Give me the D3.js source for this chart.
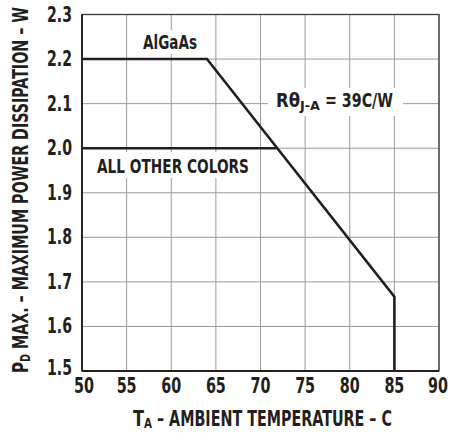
<!DOCTYPE html>
<html>
<head>
<meta charset="utf-8">
<script src="https://cdn.jsdelivr.net/npm/d3@7"></script>
<style>
  body { margin: 0; background: #fff; }
  svg text { font-family: "Liberation Sans Narrow", "DejaVu Sans Condensed", "Liberation Sans", sans-serif; font-weight: bold; fill: #231f20; }
  .grid line { stroke: #9a9a9a; stroke-width: 1; }
  .curve { fill: none; stroke: #231f20; stroke-width: 2.6; }
</style>
</head>
<body>
<svg id="chart" width="453" height="433"></svg>
<script>
// --- Chart data ---
const xTicks = [50, 55, 60, 65, 70, 75, 80, 85, 90];
const yTicks = [1.5, 1.6, 1.7, 1.8, 1.9, 2.0, 2.1, 2.2, 2.3];
const algaasTemp = [50, 64, 85, 85];
const algaasPower = [2.2, 2.2, 1.667, 1.5];
const otherTemp = [50, 71.9];
const otherPower = [2.0, 2.0];

const margin = { left: 82, right: 14, top: 14.5, bottom: 62 };
const width = 453, height = 433;

const svg = d3.select("#chart");

const x = d3.scaleLinear().domain([50, 90]).range([margin.left, width - margin.right]);
const y = d3.scaleLinear().domain([1.5, 2.3]).range([height - margin.bottom, margin.top]);

// grid
const grid = svg.append("g").attr("class", "grid");
grid.selectAll(".vx")
    .data(xTicks)
    .enter().append("line")
    .attr("x1", d => x(d)).attr("x2", d => x(d))
    .attr("y1", y(1.5)).attr("y2", y(2.3));
grid.selectAll(".hy")
    .data(yTicks)
    .enter().append("line")
    .attr("x1", x(50)).attr("x2", x(90))
    .attr("y1", d => y(d)).attr("y2", d => y(d));

// white boxes behind labels (they break the grid)
function labelBox(x0, y0, w, h) {
    svg.append("rect")
        .attr("x", x0).attr("y", y0)
        .attr("width", w).attr("height", h)
        .attr("fill", "#fff");
}
labelBox(138, 30, 64, 24);
labelBox(92, 152, 162, 26);
labelBox(268, 88, 135, 28);

// frame
svg.append("rect")
    .attr("x", x(50)).attr("y", y(2.3))
    .attr("width", x(90) - x(50)).attr("height", y(1.5) - y(2.3))
    .attr("fill", "none").attr("stroke", "#3a3a3a").attr("stroke-width", 1.3);
svg.append("line")
    .attr("x1", x(50)).attr("x2", x(50)).attr("y1", y(2.3)).attr("y2", y(1.5))
    .attr("stroke", "#231f20").attr("stroke-width", 1.8);
svg.append("line")
    .attr("x1", x(50)).attr("x2", x(90)).attr("y1", y(1.5)).attr("y2", y(1.5))
    .attr("stroke", "#231f20").attr("stroke-width", 1.8);

// curves
const line = d3.line().x(d => x(d[0])).y(d => y(d[1]));
svg.append("path").attr("class", "curve")
    .attr("d", line(d3.zip(algaasTemp, algaasPower)));
svg.append("path").attr("class", "curve")
    .attr("d", line(d3.zip(otherTemp, otherPower)));

// tick labels
svg.selectAll(".ylab")
    .data(yTicks)
    .enter().append("text")
    .attr("x", 72)
    .attr("y", d => y(d) + (d === 1.5 ? 4 : 7))
    .attr("text-anchor", "end")
    .attr("font-size", 20.5)
    .attr("textLength", 25).attr("lengthAdjust", "spacingAndGlyphs")
    .text(d => d.toFixed(1));
svg.selectAll(".xlab")
    .data(xTicks)
    .enter().append("text")
    .attr("x", d => x(d) + (d === 50 ? 2 : d === 90 ? -1 : 0))
    .attr("y", 393)
    .attr("text-anchor", "middle")
    .attr("font-size", 20.5)
    .attr("textLength", 20).attr("lengthAdjust", "spacingAndGlyphs")
    .text(d => d);

// curve labels
svg.append("text")
    .attr("x", 143).attr("y", 49)
    .attr("font-size", 19.5)
    .attr("textLength", 54).attr("lengthAdjust", "spacingAndGlyphs")
    .text("AlGaAs");
svg.append("text")
    .attr("x", 97).attr("y", 173)
    .attr("font-size", 20)
    .attr("textLength", 152).attr("lengthAdjust", "spacingAndGlyphs")
    .text("ALL OTHER COLORS");

const rt = svg.append("text")
    .attr("x", 276).attr("y", 107)
    .attr("font-size", 19.5);
rt.append("tspan").attr("textLength", 24).attr("lengthAdjust", "spacingAndGlyphs").text("R\u03B8");
rt.append("tspan").attr("font-size", 13).attr("dy", 3)
    .attr("textLength", 20).attr("lengthAdjust", "spacingAndGlyphs").text("J-A");
rt.append("tspan").attr("dy", -3)
    .attr("textLength", 73).attr("lengthAdjust", "spacingAndGlyphs").text(" = 39C/W");

// axis titles
const xt = svg.append("text")
    .attr("x", 133).attr("y", 426)
    .attr("font-size", 20.5);
xt.append("tspan").attr("textLength", 11).attr("lengthAdjust", "spacingAndGlyphs").text("T");
xt.append("tspan").attr("font-size", 14).attr("dy", 2)
    .attr("textLength", 8).attr("lengthAdjust", "spacingAndGlyphs").text("A");
xt.append("tspan").attr("dy", -2)
    .attr("textLength", 240).attr("lengthAdjust", "spacingAndGlyphs")
    .text(" \u2013 AMBIENT TEMPERATURE \u2013 C");

const yt = svg.append("text")
    .attr("transform", "translate(28,373) rotate(-90)")
    .attr("font-size", 20.5);
yt.append("tspan").attr("textLength", 11).attr("lengthAdjust", "spacingAndGlyphs").text("P");
yt.append("tspan").attr("font-size", 14).attr("dy", 2)
    .attr("textLength", 8).attr("lengthAdjust", "spacingAndGlyphs").text("D");
yt.append("tspan").attr("dy", -2)
    .attr("textLength", 347).attr("lengthAdjust", "spacingAndGlyphs")
    .text(" MAX. \u2013 MAXIMUM POWER DISSIPATION \u2013 W");
</script>
</body>
</html>
